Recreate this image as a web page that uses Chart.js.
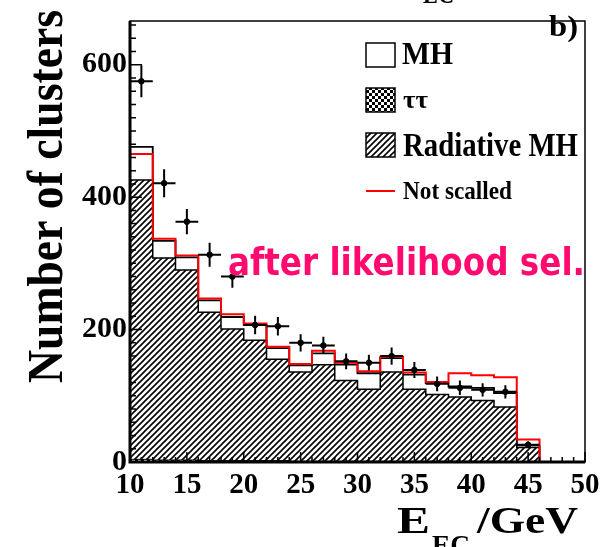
<!DOCTYPE html>
<html>
<head>
<meta charset="utf-8">
<script src="https://cdn.jsdelivr.net/npm/chart.js@4.4.1/dist/chart.umd.min.js"></script>
<style>
  body { margin: 0; background: #fff; }
  #wrap { width: 610px; height: 547px; }
</style>
</head>
<body>
<div id="wrap"><canvas id="chartClusters" width="610" height="547"></canvas></div>
<script>
// bins of E_EC (GeV), 2 GeV wide
var binLow = [10, 12, 14, 16, 18, 20, 22, 24, 26, 28, 30, 32, 34, 36, 38, 40, 42, 44];
var binWidth = 2;

// data points and their errors
var dataVals = [575, 421, 363, 313, 280, 207, 205, 180, 176, 152, 150, 160, 139, 118, 112, 109, 106, 26];
var dataErr = [24, 21, 19, 18, 17, 14, 14, 13, 13, 12, 12, 13, 12, 11, 11, 10, 10, 5];

// MH total (white), radiative MH (hatched), tautau (checker), not scaled (red)
var mhVals = [476, 334, 309, 244, 219, 207, 172, 146, 164, 147, 134, 157, 132, 119, 114, 112, 104, 25];
var radVals = [426, 308, 290, 226, 201, 184, 155, 136, 147, 123, 110, 136, 110, 102, 98, 93, 83, 22];
var tautauVals = [4, 3, 3, 2, 2, 2, 2, 1, 1, 1, 1, 1, 1, 1, 1, 1, 1, 0];
var notScaledVals = [465, 337, 312, 247, 223, 209, 174, 148, 168, 150, 137, 159, 135, 121, 134, 131, 128, 34];

var xTickLabels = [10, 15, 20, 25, 30, 35, 40, 45, 50];
var yTickLabels = [0, 200, 400, 600];

var serif = '"Liberation Serif", "Times New Roman", serif';

function histPoints(vals) {
    var pts = binLow.map(function (x, i) { return { x: x, y: vals[i] }; });
    pts.push({ x: binLow[binLow.length - 1] + binWidth, y: vals[vals.length - 1] });
    pts.push({ x: binLow[binLow.length - 1] + binWidth, y: 0 });
    return pts;
}

function makeHatch() {
    var c = document.createElement('canvas');
    c.width = 6; c.height = 6;
    var g = c.getContext('2d');
    g.fillStyle = '#fff';
    g.fillRect(0, 0, 6, 6);
    g.strokeStyle = '#000';
    g.lineWidth = 1.6;
    g.beginPath();
    g.moveTo(0, 6); g.lineTo(6, 0);
    g.moveTo(-1, 1); g.lineTo(1, -1);
    g.moveTo(5, 7); g.lineTo(7, 5);
    g.stroke();
    return g.createPattern(c, 'repeat');
}

function makeChecker() {
    var c = document.createElement('canvas');
    c.width = 6; c.height = 6;
    var g = c.getContext('2d');
    g.fillStyle = '#fff';
    g.fillRect(0, 0, 6, 6);
    g.fillStyle = '#000';
    g.fillRect(0, 0, 3, 3);
    g.fillRect(3, 3, 3, 3);
    return g.createPattern(c, 'repeat');
}

var hatch = makeHatch();
var checker = makeChecker();

// draws text squeezed/stretched to a given width
function fitText(ctx, txt, x, y, font, w) {
    ctx.save();
    ctx.font = font;
    var m = ctx.measureText(txt).width;
    ctx.translate(x, y);
    ctx.scale(w / m, 1);
    ctx.fillText(txt, 0, 0);
    ctx.restore();
}

var extras = {
    id: 'extras',
    afterDatasetsDraw: function (chart) {
        var ctx = chart.ctx;
        var xs = chart.scales.x, ys = chart.scales.y;
        var a = chart.chartArea;

        // error bars
        ctx.save();
        ctx.strokeStyle = '#000';
        ctx.lineWidth = 2;
        dataVals.forEach(function (v, i) {
            var xc = xs.getPixelForValue(binLow[i] + binWidth / 2);
            var x0 = xs.getPixelForValue(binLow[i]);
            var x1 = xs.getPixelForValue(binLow[i] + binWidth);
            var yc = ys.getPixelForValue(v);
            ctx.beginPath();
            ctx.moveTo(x0, yc); ctx.lineTo(x1, yc);
            ctx.moveTo(xc, ys.getPixelForValue(v - dataErr[i]));
            ctx.lineTo(xc, ys.getPixelForValue(v + dataErr[i]));
            ctx.stroke();
        });

        // inward ticks
        ctx.lineWidth = 1.5;
        ctx.beginPath();
        for (var yv = 0; yv <= 660; yv += 20) {
            var py = ys.getPixelForValue(yv);
            var len = (yv % 200 === 0) ? 12 : 6;
            ctx.moveTo(a.left, py); ctx.lineTo(a.left + len, py);
        }
        for (var xv = 10; xv <= 50; xv += 1) {
            var px = xs.getPixelForValue(xv);
            var l2 = (xv % 5 === 0) ? 10 : 5;
            ctx.moveTo(px, a.bottom); ctx.lineTo(px, a.bottom - l2);
        }
        ctx.stroke();

        // frame
        ctx.lineWidth = 1.5;
        ctx.strokeRect(a.left, a.top, a.right - a.left, a.bottom - a.top);
        ctx.lineWidth = 3;
        ctx.beginPath();
        ctx.moveTo(a.left, a.top); ctx.lineTo(a.left, a.bottom); ctx.lineTo(a.right, a.bottom);
        ctx.stroke();

        // legend
        ctx.lineWidth = 1.5;
        ctx.fillStyle = '#fff';
        ctx.fillRect(366, 43, 29, 24); ctx.strokeRect(366, 43, 29, 24);
        ctx.fillStyle = checker;
        ctx.fillRect(366, 88, 29, 24); ctx.strokeRect(366, 88, 29, 24);
        ctx.fillStyle = hatch;
        ctx.fillRect(366, 133, 29, 24); ctx.strokeRect(366, 133, 29, 24);
        ctx.strokeStyle = '#ff0000';
        ctx.lineWidth = 2;
        ctx.beginPath(); ctx.moveTo(366, 191); ctx.lineTo(395, 191); ctx.stroke();

        ctx.fillStyle = '#000';
        ctx.textBaseline = 'alphabetic';
        ctx.textAlign = 'left';
        fitText(ctx, 'MH', 402, 64, 'bold 32px ' + serif, 51);
        fitText(ctx, '\u03c4\u03c4', 403, 108, 'bold 26px ' + serif, 25);
        fitText(ctx, 'Radiative MH', 403, 156, 'bold 33px ' + serif, 175);
        fitText(ctx, 'Not scalled', 403, 199, 'bold 25px ' + serif, 109);
        fitText(ctx, 'b)', 549, 36, 'bold 29px ' + serif, 29);
        fitText(ctx, 'EC', 423, 3, 'bold 26px ' + serif, 31);

        // axis titles
        ctx.save();
        ctx.translate(62, 383);
        ctx.rotate(-Math.PI / 2);
        fitText(ctx, 'Number of clusters', 0, 0, 'bold 51px ' + serif, 373);
        ctx.restore();

        fitText(ctx, 'E', 397, 533, 'bold 38px ' + serif, 33);
        fitText(ctx, 'EC', 432, 554, 'bold 27px ' + serif, 38);
        fitText(ctx, '/GeV', 477, 533, 'bold 38px ' + serif, 101);

        // annotation
        ctx.fillStyle = 'rgb(255, 10, 110)';
        fitText(ctx, 'after likelihood sel.', 228, 275, 'bold 37px "DejaVu Sans", sans-serif', 357);
        ctx.restore();
    }
};

var ctx = document.getElementById('chartClusters').getContext('2d');
var chartClusters = new Chart(ctx, {
    type: 'line',
    data: {
        datasets: [
            {
                label: 'data',
                type: 'scatter',
                data: binLow.map(function (x, i) { return { x: x + binWidth / 2, y: dataVals[i] }; }),
                pointRadius: 2.8,
                pointBackgroundColor: '#000',
                pointBorderColor: '#000',
                showLine: false,
                order: 1
            },
            {
                label: 'Not scalled',
                data: histPoints(notScaledVals),
                stepped: 'before',
                borderColor: '#ff0000',
                borderWidth: 2,
                pointRadius: 0,
                fill: false,
                order: 2
            },
            {
                label: '\u03c4\u03c4',
                data: histPoints(tautauVals),
                stepped: 'before',
                borderColor: '#000',
                borderWidth: 1,
                backgroundColor: checker,
                pointRadius: 0,
                fill: 'origin',
                order: 3
            },
            {
                label: 'Radiative MH',
                data: histPoints(radVals),
                stepped: 'before',
                borderColor: '#000',
                borderWidth: 1.5,
                backgroundColor: hatch,
                pointRadius: 0,
                fill: 'origin',
                order: 4
            },
            {
                label: 'MH',
                data: histPoints(mhVals),
                stepped: 'before',
                borderColor: '#000',
                borderWidth: 1.8,
                backgroundColor: '#fff',
                pointRadius: 0,
                fill: 'origin',
                order: 5
            }
        ]
    },
    options: {
        responsive: false,
        animation: false,
        layout: { padding: { top: 8, right: 25, left: 0, bottom: 0 } },
        plugins: {
            legend: { display: false },
            tooltip: { enabled: false }
        },
        scales: {
            x: {
                type: 'linear',
                min: 10,
                max: 50,
                grid: { display: false, drawTicks: false },
                border: { display: false },
                afterBuildTicks: function (s) { s.ticks = xTickLabels.map(function (v) { return { value: v }; }); },
                afterFit: function (s) { s.height = 85; },
                ticks: {
                    autoSkip: false,
                    maxRotation: 0,
                    padding: 6,
                    color: '#000',
                    font: { family: serif, size: 29, weight: 'bold' }
                }
            },
            y: {
                min: 0,
                max: 666,
                grid: { display: false, drawTicks: false },
                border: { display: false },
                afterBuildTicks: function (s) { s.ticks = yTickLabels.map(function (v) { return { value: v }; }); },
                afterFit: function (s) { s.width = 130; },
                ticks: {
                    padding: 3,
                    color: '#000',
                    font: { family: serif, size: 30, weight: 'bold' }
                }
            }
        }
    },
    plugins: [extras]
});
</script>
</body>
</html>
